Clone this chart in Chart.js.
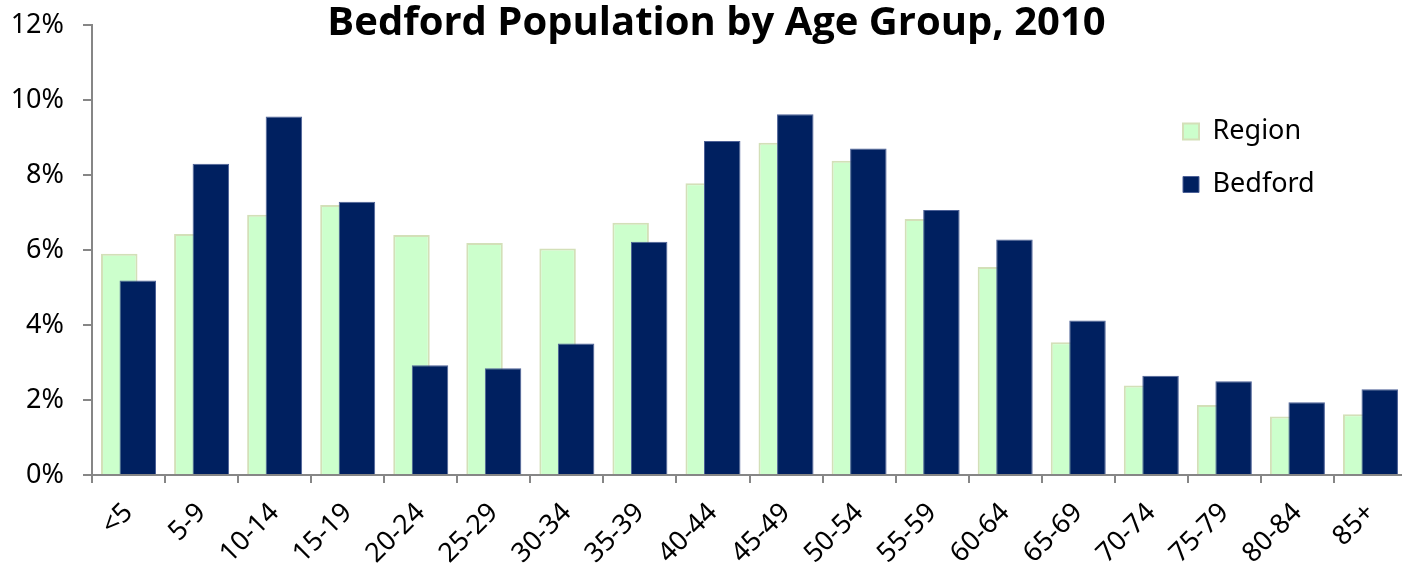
<!DOCTYPE html>
<html>
<head>
<meta charset="utf-8">
<title>Bedford Population by Age Group, 2010</title>
<script src="https://cdn.jsdelivr.net/npm/chart.js@4/dist/chart.umd.min.js"></script>
<style>
    html, body { margin: 0; padding: 0; background: #fff; overflow: hidden; }
    #wrap { width: 1433px; height: 565px; }
</style>
</head>
<body>
<div id="wrap"><canvas id="ageChart" width="1433" height="565"></canvas></div>
<script>
// Age groups on the x axis
const ageGroups = ['<5', '5-9', '10-14', '15-19', '20-24', '25-29', '30-34', '35-39', '40-44',
    '45-49', '50-54', '55-59', '60-64', '65-69', '70-74', '75-79', '80-84', '85+'];

// Share of population in each group (%)
const regionPct = [5.90, 6.43, 6.94, 7.20, 6.40, 6.19, 6.04, 6.73, 7.78,
    8.86, 8.38, 6.83, 5.55, 3.54, 2.39, 1.87, 1.56, 1.62];
const bedfordPct = [5.19, 8.30, 9.56, 7.29, 2.93, 2.85, 3.51, 6.22, 8.91,
    9.62, 8.71, 7.07, 6.28, 4.12, 2.65, 2.50, 1.94, 2.29];

// y axis ticks (%)
const yMin = 0, yMax = 12, yStep = 2;

const axisGray = '#868686';
const labelFont = { family: "'Noto Sans', 'Open Sans', sans-serif", size: 27 };

// Excel draws the second series over the first; Chart.js does the opposite,
// so hold Bedford back and draw it right after Region.
const bedfordOnTop = {
    id: 'bedfordOnTop',
    beforeDatasetDraw(chart, args) {
        if (args.index === 1) return false;
    },
    afterDatasetDraw(chart, args) {
        if (args.index === 0) chart.getDatasetMeta(1).controller.draw();
    }
};

// Title overlaps the top of the plot and is centred on the whole canvas;
// legend sits inside the plot, upper right like the original
const placeBoxes = {
    id: 'placeBoxes',
    afterLayout(chart) {
        const tb = chart.titleBlock;
        if (tb) {
            tb.left = 0;
            tb.right = chart.width;
            tb.width = chart.width;
            tb.top = 11;
            tb.bottom = 36;
        }
        const lg = chart.legend;
        if (lg) {
            lg.left = 1157;
            lg.top = 92;
            lg.right = lg.left + 220;
            lg.bottom = lg.top + 160;
            lg.width = 220;
            lg.height = 160;
        }
    }
};

new Chart(document.getElementById('ageChart'), {
    type: 'bar',
    data: {
        labels: ageGroups,
        datasets: [
            {
                label: 'Region',
                data: regionPct,
                backgroundColor: '#ccffcc',
                borderColor: '#d3e0b8',
                borderWidth: 2,
                categoryPercentage: 0.507,
                barPercentage: 1.97
            },
            {
                label: 'Bedford',
                data: bedfordPct,
                backgroundColor: '#002060',
                borderColor: '#4d6197',
                borderWidth: 1,
                categoryPercentage: 0.507,
                barPercentage: 1.97
            }
        ]
    },
    options: {
        responsive: false,
        animation: false,
        devicePixelRatio: 1,
        layout: { padding: { left: 0, right: 26, top: 0, bottom: 0 } },
        plugins: {
            title: {
                display: true,
                text: 'Bedford Population by Age Group, 2010',
                color: '#000',
                font: { family: "'Open Sans', 'Noto Sans', sans-serif", size: 40, weight: 'bold', lineHeight: '25px' },
                padding: 0
            },
            legend: {
                position: 'chartArea',
                align: 'start',
                labels: {
                    color: '#000',
                    font: labelFont,
                    boxWidth: 16,
                    boxHeight: 16,
                    padding: 26
                }
            },
            tooltip: { enabled: false }
        },
        scales: {
            x: {
                grid: { display: true, drawOnChartArea: false, color: axisGray, lineWidth: 2, tickLength: 8 },
                border: { color: axisGray, width: 2 },
                ticks: { color: '#000', font: labelFont, minRotation: 45, maxRotation: 45, padding: 14 },
                afterFit(scale) { scale.height = 90; }
            },
            y: {
                min: yMin,
                max: yMax,
                grid: { display: true, drawOnChartArea: false, color: axisGray, lineWidth: 2, tickLength: 9 },
                border: { color: axisGray, width: 2 },
                ticks: {
                    stepSize: yStep,
                    color: '#000',
                    font: labelFont,
                    padding: 19,
                    callback: v => v + '%'
                },
                afterFit(scale) {
                    scale.width = 92;
                    // the top label may stick out above the plot, as in the original
                    scale.paddingTop = 0;
                    scale.paddingBottom = 0;
                }
            }
        }
    },
    plugins: [bedfordOnTop, placeBoxes]
});
</script>
</body>
</html>
